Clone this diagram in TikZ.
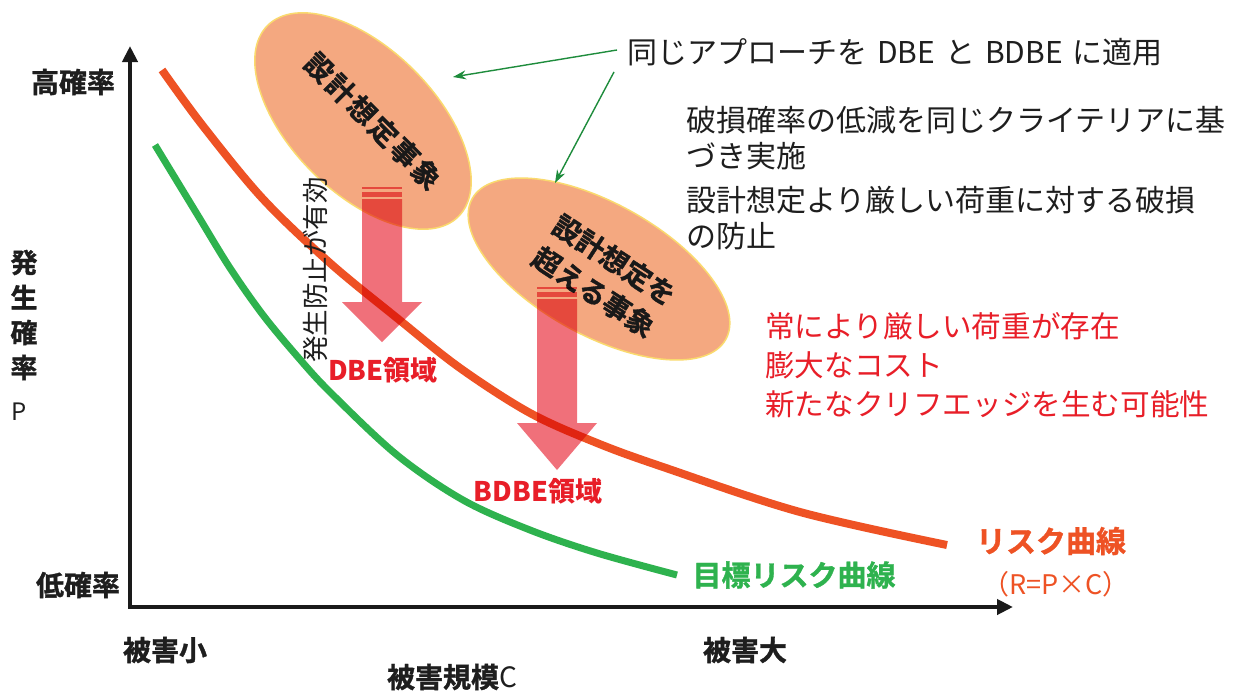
\documentclass[tikz,border=0pt]{standalone}
\usepackage{fontspec}
\setmainfont{Noto Sans CJK JP}
\newfontfamily\heavyjp[FakeBold=1.2]{Noto Sans CJK JP Bold}
\usetikzlibrary{arrows.meta,shapes.geometric}
\definecolor{riskred}{RGB}{238,82,36}
\definecolor{tgtgreen}{RGB}{46,178,78}
\definecolor{salmon}{RGB}{244,168,128}
\definecolor{ellborder}{RGB}{250,218,110}
\definecolor{arrowpink}{RGB}{240,112,122}
\definecolor{textred}{RGB}{232,30,40}
\definecolor{callgreen}{RGB}{30,140,60}
\definecolor{axisblack}{RGB}{26,26,26}
\definecolor{textdark}{RGB}{30,30,30}
\begin{document}
\begin{tikzpicture}[x=1pt,y=-1pt,
  axislbl/.style={inner sep=0pt, text=textdark, font=\heavyjp\fontsize{28}{34}\selectfont},
  body/.style={inner sep=0pt, anchor=west, align=left, text=textdark, font=\fontsize{30}{36}\selectfont},
  redbody/.style={inner sep=0pt, anchor=west, align=left, text=textred, font=\fontsize{29.6}{39}\selectfont},
  region/.style={inner sep=0pt, text=textred, font=\bfseries\fontsize{27}{30}\selectfont},
  event/.style={ellipse, draw=ellborder, line width=1.5pt, fill=salmon, inner sep=0pt},
  eventtxt/.style={inner sep=0pt, align=center, text=black!90, font=\heavyjp\fontsize{28}{38}\selectfont},
  callout/.style={callgreen, line width=1.4pt, -{Stealth[length=13pt,width=9pt]}},
  bigarrow/.style={fill=arrowpink}
]
\useasboundingbox (0,0) rectangle (1240,691);
\fill[white] (0,0) rectangle (1240,691);

% axes
\coordinate (ytip) at (130,46);
\coordinate (origin) at (130,607);
\coordinate (xtip) at (1013,607);
\draw[axisblack, line width=4pt, line join=miter,
  {Triangle[length=16pt,width=15pt]}-{Triangle[length=16pt,width=15pt]}]
  (ytip) -- (origin) -- (xtip);

% curves
\draw[riskred, line width=8pt] plot[smooth, tension=0.55] coordinates
  {(162,70) (203,126) (263,199) (330,263) (397,318) (460,368) (530,413) (597,443) (663,467) (800,512) (947,545)};
\draw[tgtgreen, line width=7pt] plot[smooth, tension=0.55] coordinates
  {(155,145) (197,214) (230,268) (263,315) (297,356) (330,392) (397,455) (463,500) (530,530) (597,553) (677,575)};

% event ellipses
\node[event, minimum width=270pt, minimum height=144pt, rotate=-45] (e1) at (363,121) {};
\node[event, minimum width=290pt, minimum height=132pt, rotate=-29] (e2) at (599,269) {};
\node[eventtxt, rotate=-45] (e1t) at (373,121) {\addfontfeature{LetterSpace=8}設計想定事象};
\node[eventtxt, rotate=-33] (e2t) at (604,276) {設計想定を\\超える事象};

% big arrows (multiply blend)
\begin{scope}[blend mode=multiply]
\fill[bigarrow] (362,199) -- (402,199) -- (402,302) -- (422,302) -- (382,342) -- (342,302) -- (362,302) -- cycle;
\fill[bigarrow] (362,187) rectangle (402,189);
\fill[bigarrow] (362,192) rectangle (402,197);
\fill[bigarrow] (537,299) -- (577,299) -- (577,423) -- (597,423) -- (557,470) -- (517,423) -- (537,423) -- cycle;
\fill[bigarrow] (537,287) rectangle (577,289);
\fill[bigarrow] (537,292) rectangle (577,297);
\end{scope}

% axis labels
\node[axislbl] (hi) at (73,82) {高確率};
\node[axislbl] (lo) at (78,585) {低確率};
\node[axislbl, align=center, font=\heavyjp\fontsize{27}{35}\selectfont] (pl) at (24,315) {発\\生\\確\\率};
\node[inner sep=0pt, text=textdark, font=\fontsize{24}{28}\selectfont] (pp) at (19,412) {P};
\node[axislbl] (small) at (165,650) {被害小};
\node[axislbl] (large) at (745,650) {被害大};
\node[axislbl] (scale) at (452,677) {被害規模{\normalfont\fontsize{28}{34}\selectfont C}};

% side vertical text
\node[inner sep=0pt, text=textdark, font=\fontsize{26.5}{30}\selectfont, rotate=90] (prev) at (315,270) {発生防止が有効};

% region labels
\node[region] (dbe) at (383,370) {DBE領域};
\node[region] (bdbe) at (538,491) {BDBE領域};

% curve labels
\node[inner sep=0pt, text=tgtgreen, font=\heavyjp\fontsize{29}{34}\selectfont] (tgt) at (794,575) {目標リスク曲線};
\node[inner sep=0pt, text=riskred, font=\heavyjp\fontsize{30}{34}\selectfont] (risk) at (1051,541) {リスク曲線};
\node[inner sep=0pt, text=riskred, font=\fontsize{27}{30}\selectfont] (formula) at (1056,584) {（R=P×C）};

% texts
\node[body] (hdr) at (627,52) {同じアプローチを\hspace{10pt}DBE\hspace{10pt}と\hspace{10pt}BDBE\hspace{10pt}に適用};
\node[body] (blk) at (686,178.5) {破損確率の低減を同じクライテリアに基\\づき実施\\[8pt]設計想定より厳しい荷重に対する破損\\の防止};
\node[redbody] (red) at (765,365) {常により厳しい荷重が存在\\膨大なコスト\\新たなクリフエッジを生む可能性};

% callouts
\coordinate (c1) at (617,50);
\coordinate (c2) at (614,72);
\coordinate (t1) at (453,77);
\coordinate (t2) at (555,183);
\draw[callout] (c1) -- (t1);
\draw[callout] (c2) -- (t2);
\end{tikzpicture}
\end{document}
